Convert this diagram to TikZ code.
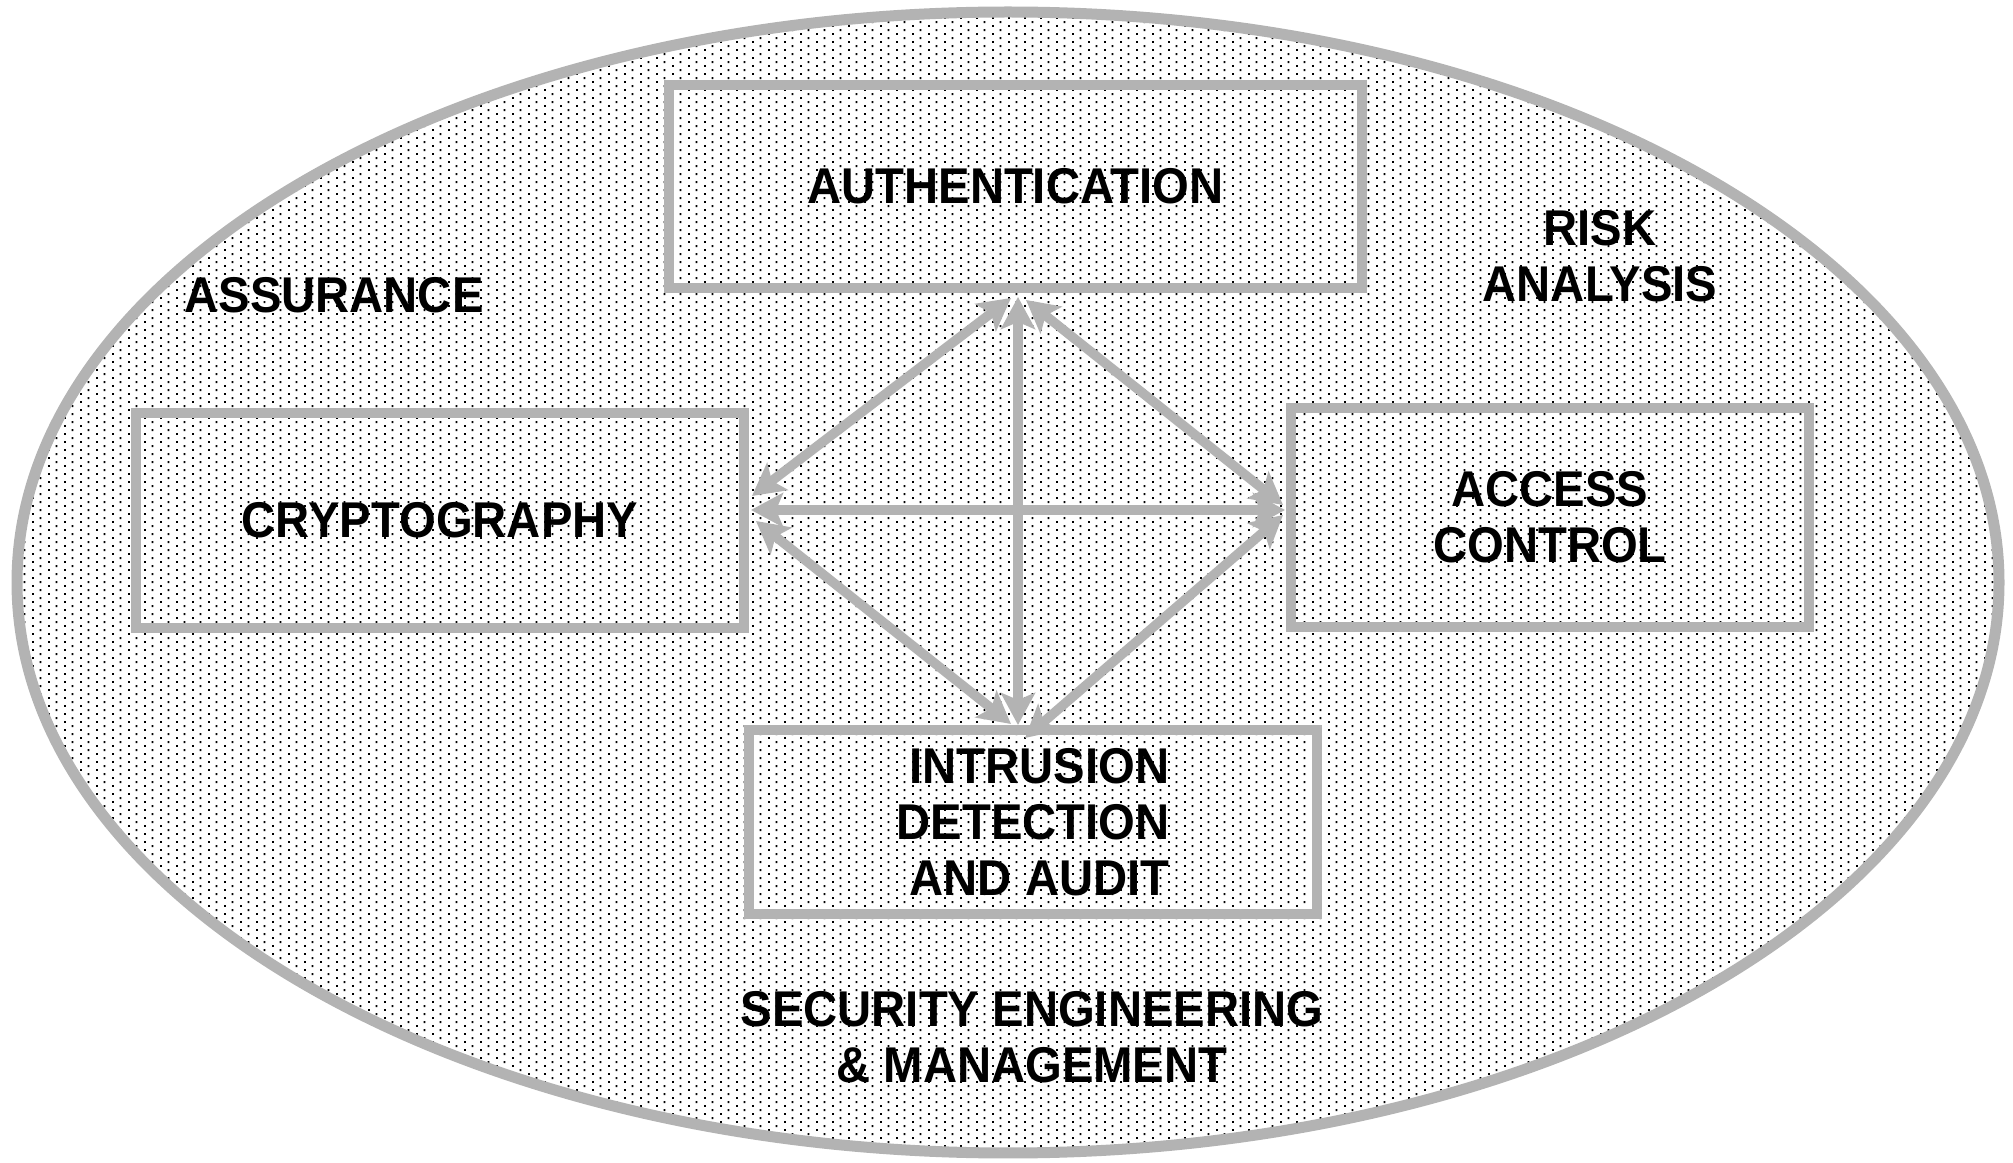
\documentclass[tikz,border=0pt]{standalone}
\usepackage{fontspec}
\newfontfamily\labfont{Liberation Sans}[FakeStretch=0.94]
\usetikzlibrary{arrows.meta,patterns}
\definecolor{lgray}{RGB}{179,179,179}
\pgfdeclarepatternformonly{mydots}{\pgfpointorigin}{\pgfpoint{1.6mm}{0.8mm}}{\pgfpoint{1.6mm}{0.8mm}}{%
  \pgfpathrectangle{\pgfpointorigin}{\pgfpoint{0.2mm}{0.2mm}}%
  \pgfpathrectangle{\pgfpoint{0.8mm}{0.4mm}}{\pgfpoint{0.2mm}{0.2mm}}%
  \pgfusepath{fill}}
\tikzset{
  lab/.style={font=\labfont\bfseries\fontsize{14.3}{15.9}\selectfont, text=black, inner sep=0pt},
  boxnode/.style={draw=lgray, line width=1.05mm, lab, align=center, inner sep=0pt, outer sep=0pt},
  arr/.style={draw=lgray, line width=0.95mm, {Stealth[length=3.2mm,width=3.4mm,inset=0.7mm]}-{Stealth[length=3.2mm,width=3.4mm,inset=0.7mm]}}
}
\begin{document}
\begin{tikzpicture}[x=0.1mm,y=-0.1mm]
\useasboundingbox (0,0) rectangle (2013,1163);
% background ellipse
\fill[white] (1008,582.5) ellipse [x radius=99.1mm, y radius=57.05mm];
\fill[pattern=mydots, pattern color=black] (1008,582.5) ellipse [x radius=99.1mm, y radius=57.05mm];
\draw[lgray, line width=1.1mm] (1008,582.5) ellipse [x radius=99.1mm, y radius=57.05mm];

% boxes
\node[boxnode, minimum width=69.3mm, minimum height=20.3mm] (auth) at (1015.5,186.5) {AUTHENTICATION};
\node[boxnode, minimum width=60.8mm, minimum height=21.5mm] (crypt) at (440,520.5) {CRYPTOGRAPHY};
\node[boxnode, minimum width=51.8mm, minimum height=21.9mm] (acc) at (1550,517.5) {ACCESS\\CONTROL};
\node[boxnode, minimum width=56.8mm, minimum height=18.4mm, align=right] (intr) at (1033,822) {INTRUSION\\DETECTION\\AND AUDIT};

% free labels
\node[lab] (assur) at (334,295) {ASSURANCE};
\node[lab, align=center] (risk) at (1600,256) {RISK\\ANALYSIS};
\node[lab, align=center] (sem) at (1032,1037) {SECURITY ENGINEERING\\\& MANAGEMENT};

% arrow end points
\coordinate (aV) at (1018,297);
\coordinate (aL) at (1011,298);
\coordinate (aR) at (1026,300);
\coordinate (cU) at (752,496);
\coordinate (cM) at (751,510);
\coordinate (cD) at (756,521);
\coordinate (xU) at (1283,505);
\coordinate (xM) at (1285,510);
\coordinate (xD) at (1283,515);
\coordinate (iV) at (1018,725);
\coordinate (iL) at (1011,724);
\coordinate (iR) at (1025,738);

% connectors
\draw[arr] (aV) -- (iV);
\draw[arr] (aL) -- (cU);
\draw[arr] (aR) -- (xU);
\draw[arr] (cM) -- (xM);
\draw[arr] (cD) -- (iL);
\draw[arr] (xD) -- (iR);
\end{tikzpicture}
\end{document}
